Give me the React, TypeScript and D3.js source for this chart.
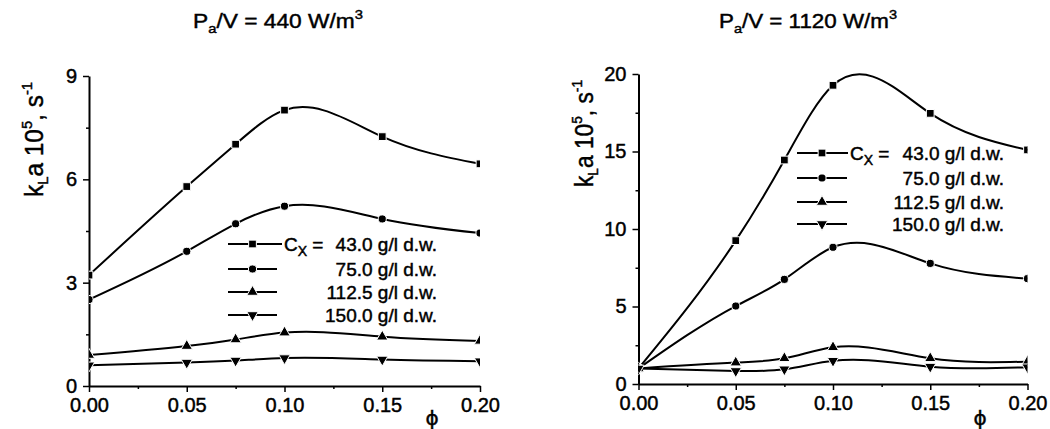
import React, { useEffect, useRef } from "react";
import * as d3 from "d3";

// volume fraction of the dispersed phase, same for every series
const phi = [0, 0.05, 0.075, 0.1, 0.15, 0.2];
const cxLabels = ["43.0", "75.0", "112.5", "150.0"];

// Pa/V = 440 W/m3, kLa * 10^5 in s^-1
const low43 = [3.22, 5.79, 7.02, 8.01, 7.24, 6.45];
const low75 = [2.51, 3.91, 4.71, 5.22, 4.85, 4.44];
const low112 = [0.9, 1.16, 1.35, 1.55, 1.43, 1.31];
const low150 = [0.6, 0.68, 0.74, 0.81, 0.77, 0.72];

// Pa/V = 1120 W/m3
const high43 = [1.0, 9.25, 14.45, 19.27, 17.46, 15.1];
const high75 = [1.0, 5.03, 6.75, 8.82, 7.78, 6.8];
const high112 = [1.0, 1.38, 1.66, 2.37, 1.66, 1.44];
const high150 = [1.0, 0.84, 0.95, 1.5, 1.12, 1.08];

const xTicks = [0, 0.05, 0.1, 0.15, 0.2];
const xMinor = [0.025, 0.075, 0.125, 0.175];
const lowTicks = [0, 3, 6, 9];
const lowMinor = [1.5, 4.5, 7.5];
const highTicks = [0, 5, 10, 15, 20];
const highMinor = [2.5, 7.5, 12.5, 17.5];

const FONT = "'Liberation Sans', Arial, Helvetica, sans-serif";
const symbols = [d3.symbolSquare, d3.symbolCircle, d3.symbolTriangle, d3.symbolTriangle];
const symbolSizes = [60, 52, 56, 56];

const panels = [
  {
    id: "low",
    power: "440",
    series: [low43, low75, low112, low150],
    yMax: 9,
    ticks: lowTicks,
    minor: lowMinor,
    left: 89, right: 480, top: 76, bottom: 386,
    titleX: 278, titleLen: 170,
    labelX: 43, labelY: 197, labelLen: 115,
    phiX: 432,
    legend: { x0: 228, x1: 277, cx: 284, textEnd: 437, rows: [244, 269, 292, 315] },
  },
  {
    id: "high",
    power: "1120",
    series: [high43, high75, high112, high150],
    yMax: 20,
    ticks: highTicks,
    minor: highMinor,
    left: 638.5, right: 1027.5, top: 74, bottom: 384,
    titleX: 808, titleLen: 178,
    labelX: 593, labelY: 187, labelLen: 107,
    phiX: 980,
    legend: { x0: 797, x1: 847, cx: 850, textEnd: 1004, rows: [153, 178, 202, 224] },
  },
];

// natural cubic spline y(x), like the plotting program's "spline" connect mode.
// d3.curveNatural splines x and y over the point index, which bends wrongly with uneven x steps.
function SplineX(context) {
  this._context = context;
}
SplineX.prototype = {
  areaStart() {},
  areaEnd() {},
  lineStart() {
    this._x = [];
    this._y = [];
  },
  point(x, y) {
    this._x.push(+x);
    this._y.push(+y);
  },
  lineEnd() {
    const xs = this._x, ys = this._y, n = xs.length, ctx = this._context;
    if (!n) return;
    ctx.moveTo(xs[0], ys[0]);
    if (n < 3) {
      for (let i = 1; i < n; i++) ctx.lineTo(xs[i], ys[i]);
      return;
    }
    const h = [];
    for (let i = 0; i < n - 1; i++) h[i] = xs[i + 1] - xs[i];
    const a = [], b = [], c = [], d = [];
    for (let i = 1; i < n - 1; i++) {
      a[i] = h[i - 1];
      b[i] = 2 * (h[i - 1] + h[i]);
      c[i] = h[i];
      d[i] = 6 * ((ys[i + 1] - ys[i]) / h[i] - (ys[i] - ys[i - 1]) / h[i - 1]);
    }
    for (let i = 2; i < n - 1; i++) {
      const w = a[i] / b[i - 1];
      b[i] -= w * c[i - 1];
      d[i] -= w * d[i - 1];
    }
    const M = new Array(n).fill(0);
    M[n - 2] = d[n - 2] / b[n - 2];
    for (let i = n - 3; i >= 1; i--) M[i] = (d[i] - c[i] * M[i + 1]) / b[i];
    const m = [];
    for (let i = 0; i < n - 1; i++) m[i] = (ys[i + 1] - ys[i]) / h[i] - (h[i] * (2 * M[i] + M[i + 1])) / 6;
    m[n - 1] = (ys[n - 1] - ys[n - 2]) / h[n - 2] + (h[n - 2] * (M[n - 2] + 2 * M[n - 1])) / 6;
    for (let i = 0; i < n - 1; i++) {
      ctx.bezierCurveTo(
        xs[i] + h[i] / 3, ys[i] + (m[i] * h[i]) / 3,
        xs[i + 1] - h[i] / 3, ys[i + 1] - (m[i + 1] * h[i]) / 3,
        xs[i + 1], ys[i + 1]
      );
    }
  },
};
const curveSplineX = (context) => new SplineX(context);

// scanned originals look heavier than a plain regular weight
function thicken(sel) {
  return sel.attr("stroke", "#000").attr("stroke-width", 0.45).attr("fill", "#000");
}

function drawPanel(root, p) {
  const g = root.append("g");
  const x = d3.scaleLinear().domain([0, 0.2]).range([p.left, p.right]);
  const y = d3.scaleLinear().domain([0, p.yMax]).range([p.bottom, p.top]);

  // title
  const title = g
    .append("text")
    .attr("x", p.titleX)
    .attr("y", 28)
    .attr("text-anchor", "middle")
    .attr("font-size", 20)
    .attr("textLength", p.titleLen)
    .attr("lengthAdjust", "spacingAndGlyphs");
  thicken(title);
  title.append("tspan").text("P");
  title.append("tspan").attr("font-size", 13).attr("dy", 5).text("a");
  title.append("tspan").attr("dy", -5).text(`/V = ${p.power} W/m`);
  title.append("tspan").attr("font-size", 13).attr("dy", -9).text("3");

  // y label
  const lab = g
    .append("text")
    .attr("transform", `translate(${p.labelX},${p.labelY}) rotate(-90)`)
    .attr("font-size", 25)
    .attr("textLength", p.labelLen)
    .attr("lengthAdjust", "spacingAndGlyphs");
  thicken(lab);
  lab.append("tspan").text("k");
  lab.append("tspan").attr("font-size", 15).attr("dy", 5).text("L");
  lab.append("tspan").attr("dy", -5).text("a 10");
  lab.append("tspan").attr("font-size", 15).attr("dy", -11).text("5");
  lab.append("tspan").attr("dy", 11).text(", s");
  lab.append("tspan").attr("font-size", 15).attr("dy", -11).text("-1");

  // axes
  const xAxis = g
    .append("g")
    .attr("transform", `translate(0,${p.bottom})`)
    .call(
      d3.axisBottom(x).tickValues(xTicks).tickFormat(d3.format(".2f")).tickSize(6).tickSizeOuter(0).tickPadding(6)
    );
  g.append("g")
    .attr("transform", `translate(0,${p.bottom})`)
    .call(d3.axisBottom(x).tickValues(xMinor).tickFormat(() => "").tickSize(3).tickSizeOuter(0))
    .select(".domain")
    .remove();
  const yAxis = g
    .append("g")
    .attr("transform", `translate(${p.left},0)`)
    .call(d3.axisLeft(y).tickValues(p.ticks).tickFormat(d3.format("d")).tickSize(6).tickSizeOuter(0).tickPadding(6));
  g.append("g")
    .attr("transform", `translate(${p.left},0)`)
    .call(d3.axisLeft(y).tickValues(p.minor).tickFormat(() => "").tickSize(3).tickSizeOuter(0))
    .select(".domain")
    .remove();

  [xAxis, yAxis].forEach((a) => {
    a.attr("font-family", FONT).attr("font-size", 20);
    a.select(".domain").attr("stroke-width", 2);
    thicken(a.selectAll(".tick text"));
  });
  g.selectAll(".tick line").attr("stroke-width", 1.5);
  xAxis.selectAll(".tick text").attr("dy", "0.72em");

  // phi
  thicken(
    g
      .append("text")
      .attr("x", p.phiX)
      .attr("y", 425)
      .attr("text-anchor", "middle")
      .attr("font-family", "'DejaVu Sans', sans-serif")
      .attr("font-size", 20)
      .text("\u03d5")
  );

  // data
  const clipId = `clip-${p.id}`;
  root
    .append("clipPath")
    .attr("id", clipId)
    .append("rect")
    .attr("x", p.left)
    .attr("y", 0)
    .attr("width", p.right - p.left)
    .attr("height", p.bottom + 10);

  const data = g.append("g").attr("clip-path", `url(#${clipId})`);
  const line = d3
    .line()
    .x((d, i) => x(phi[i]))
    .y((d) => y(d))
    .curve(curveSplineX);

  p.series.forEach((vals, si) => {
    data.append("path").attr("d", line(vals)).attr("fill", "none").attr("stroke", "#000").attr("stroke-width", 2);
    const sym = d3.symbol().type(symbols[si]).size(symbolSizes[si]);
    data
      .selectAll(null)
      .data(vals)
      .enter()
      .append("path")
      .attr("d", sym())
      .attr("transform", (d, i) => `translate(${x(phi[i])},${y(d)})${si === 3 ? " rotate(180)" : ""}`)
      .attr("fill", "#000")
      .attr("stroke", "#fff")
      .attr("stroke-width", 1);
  });

  // legend
  const lg = g.append("g").attr("font-size", 19);
  cxLabels.forEach((c, i) => {
    const ry = p.legend.rows[i];
    lg.append("line")
      .attr("x1", p.legend.x0)
      .attr("x2", i === 0 ? p.legend.cx - 2 : p.legend.x1)
      .attr("y1", ry)
      .attr("y2", ry)
      .attr("stroke", "#000")
      .attr("stroke-width", 2);
    const sym = d3.symbol().type(symbols[i]).size(symbolSizes[i]);
    lg.append("path")
      .attr("d", sym())
      .attr("transform", `translate(${(p.legend.x0 + p.legend.x1) / 2},${ry})${i === 3 ? " rotate(180)" : ""}`)
      .attr("fill", "#000")
      .attr("stroke", "#fff")
      .attr("stroke-width", 1);
    thicken(
      lg
        .append("text")
        .attr("x", p.legend.textEnd)
        .attr("y", ry + 7)
        .attr("text-anchor", "end")
        .text(`${c} g/l d.w.`)
    );
    if (i === 0) {
      const t = thicken(lg.append("text").attr("x", p.legend.cx).attr("y", ry + 7));
      t.append("tspan").text("C");
      t.append("tspan").attr("font-size", 14).attr("dy", 5).text("X");
      t.append("tspan").attr("dy", -5).text(" =");
    }
  });
}

export default function App() {
  const svgRef = useRef(null);

  useEffect(() => {
    const svg = d3.select(svgRef.current);
    svg.selectAll("*").remove();
    panels.forEach((p) => drawPanel(svg, p));
  }, []);

  return (
    <svg
      ref={svgRef}
      width={1050}
      height={429}
      style={{ position: "absolute", left: 0, top: 0, background: "#fff", fontFamily: FONT }}
    ></svg>
  );
}
